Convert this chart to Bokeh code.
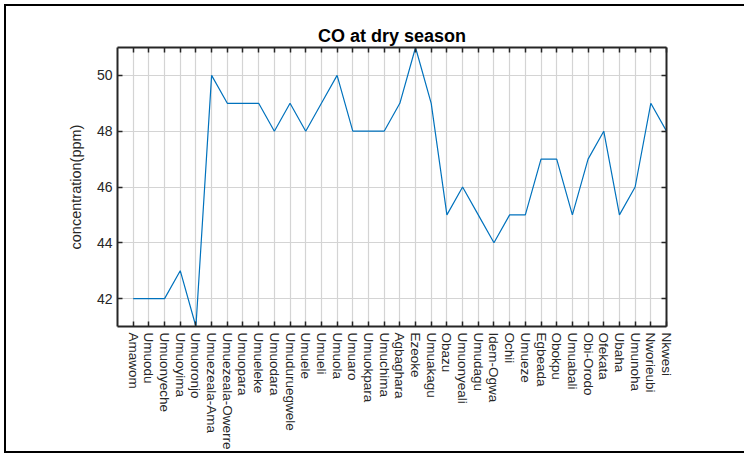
from bokeh.plotting import figure
from bokeh.models import Range1d, FixedTicker, LinearAxis
from bokeh.embed import file_html
from bokeh.resources import INLINE
import math

sites = ["Amawom", "Umuodu", "Umuonyeche", "Umuoyima", "Umuoronjo", "Umuezeala-Ama",
         "Umuezeala-Owerre", "Umuopara", "Umueleke", "Umuodara", "Umuduruegwele", "Umuele",
         "Umueli", "Umuola", "Umuaro", "Umuokpara", "Umuchima", "Agbaghara", "Ezeoke",
         "Umuakagu", "Obazu", "Umuonyeali", "Umudagu", "Idem-Ogwa", "Ochii", "Umueze",
         "Egbeada", "Obokpu", "Umuabali", "Obi-Orodo", "Ofekata", "Ubaha", "Umunoha",
         "Nworieubi", "Nkwesi"]
co_ppm = [42, 42, 42, 43, 41, 50, 49, 49, 49, 48, 49, 48, 49, 50, 48, 48, 48, 49, 51,
          49, 45, 46, 45, 44, 45, 45, 47, 47, 45, 47, 48, 45, 46, 49, 48]
y_ticks = [42, 44, 46, 48, 50]

xs = list(range(1, len(sites) + 1))

p = figure(width=746, height=449, output_backend="svg", toolbar_location=None,
           x_range=Range1d(0, len(sites)), y_range=Range1d(41, 51),
           min_border_left=111, min_border_right=86, min_border_top=41, min_border_bottom=129,
           styles={"margin": "4px 0px 0px 4px",
                   "border-left": "2px solid black", "border-top": "2px solid black",
                   "border-bottom": "2px solid black"})
p.title.text = "CO at dry season"
p.title.align = "center"
p.title.text_font = "Liberation Sans"
p.title.text_font_size = "18px"
p.title.text_font_style = "bold"
p.title.text_color = "#000000"
p.title.standoff = 4

p.line(xs, co_ppm, line_color="#0072BD", line_width=1.2)

axis_col = "#262626"
for ax in [p.xaxis[0], p.yaxis[0]]:
    ax.axis_line_color = axis_col
    ax.axis_line_width = 2
    ax.major_tick_line_color = axis_col
    ax.major_tick_line_width = 1.5
    ax.major_tick_in = 5
    ax.major_tick_out = 0
    ax.minor_tick_line_color = None
    ax.major_label_text_font = "Liberation Sans"
    ax.major_label_text_color = axis_col

p.xaxis.ticker = FixedTicker(ticks=xs)
p.xaxis.major_label_overrides = {i: s for i, s in zip(xs, sites)}
p.xaxis.major_label_orientation = -math.pi / 2
p.xaxis.major_label_text_font_size = "13.5px"
p.xaxis.major_label_standoff = 6

p.yaxis.ticker = FixedTicker(ticks=y_ticks)
p.yaxis.major_label_text_font_size = "14px"
p.yaxis.major_label_standoff = 5
p.yaxis.axis_label = "concentration(ppm)"
p.yaxis.axis_label_text_font = "Liberation Sans"
p.yaxis.axis_label_text_font_size = "14.5px"
p.yaxis.axis_label_text_font_style = "normal"
p.yaxis.axis_label_text_color = axis_col
p.yaxis.axis_label_standoff = 10

top = LinearAxis(ticker=FixedTicker(ticks=xs), major_label_overrides={i: "" for i in xs})
right = LinearAxis(ticker=FixedTicker(ticks=y_ticks), major_label_overrides={i: "" for i in y_ticks})
for ax in [top, right]:
    ax.axis_line_color = axis_col
    ax.axis_line_width = 2
    ax.major_tick_line_color = axis_col
    ax.major_tick_line_width = 1.5
    ax.major_tick_in = 5
    ax.major_tick_out = 0
    ax.minor_tick_line_color = None
    ax.major_label_standoff = 0
p.add_layout(top, "above")
p.add_layout(right, "right")

p.xgrid.ticker = FixedTicker(ticks=xs)
p.ygrid.ticker = FixedTicker(ticks=y_ticks)
p.grid.grid_line_color = "#d4d4d4"
p.grid.grid_line_width = 1.2
p.outline_line_color = None
p.background_fill_color = "white"
p.border_fill_color = "white"

open("out.html", "w").write(file_html(p, INLINE))
